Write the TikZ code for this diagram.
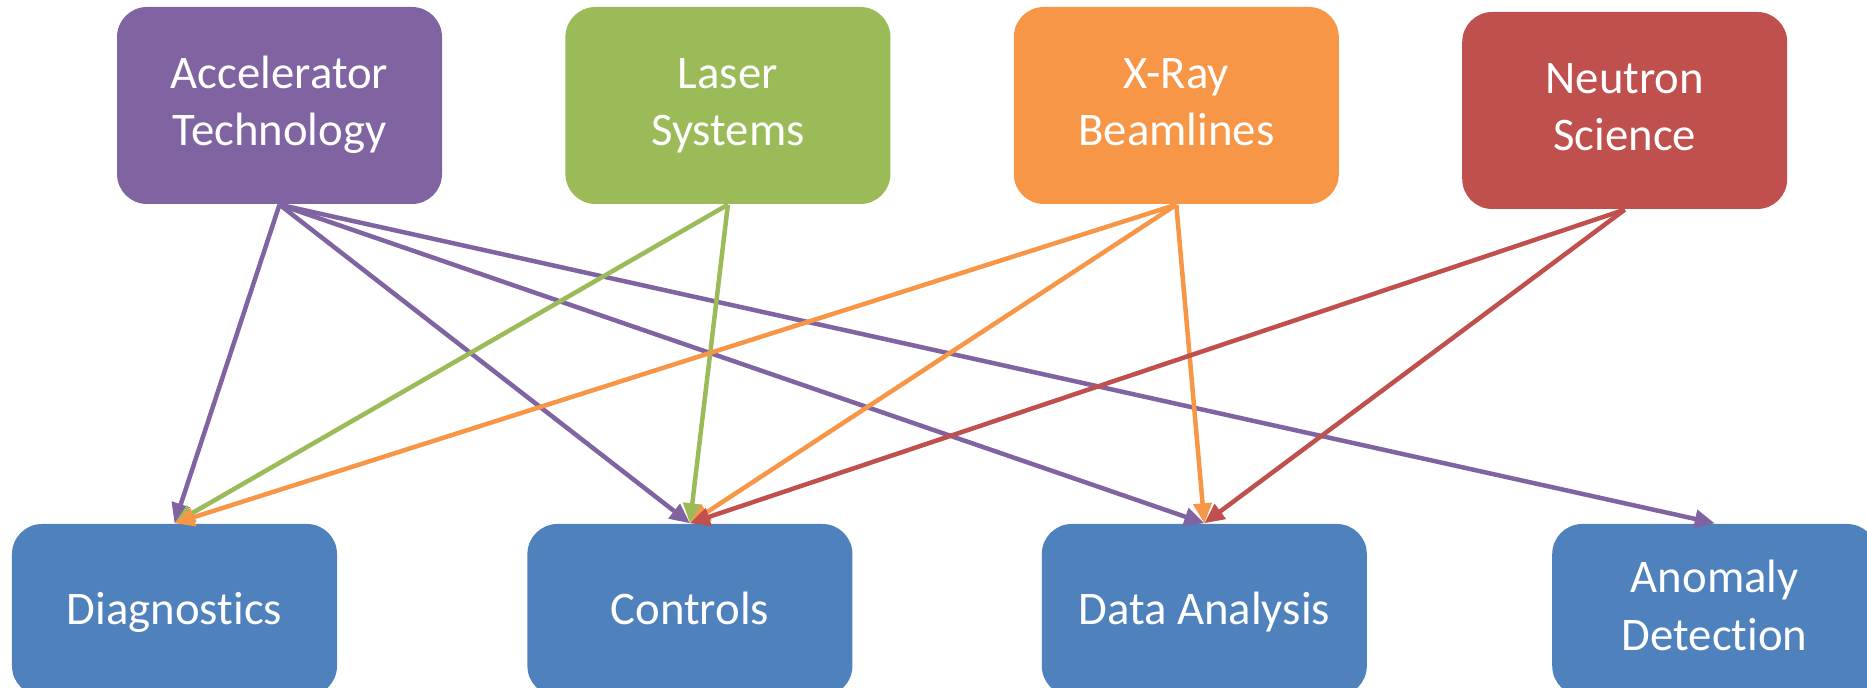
\documentclass[tikz,border=0pt]{standalone}
\usepackage{fontspec}
\setmainfont{Carlito}[Ligatures={NoCommon,NoContextual},
  RawFeature={-liga;-clig;-dlig;-calt}]
\usetikzlibrary{arrows.meta,positioning}
\definecolor{acc}{RGB}{128,100,162}
\definecolor{las}{RGB}{155,187,89}
\definecolor{xry}{RGB}{247,150,70}
\definecolor{neu}{RGB}{192,80,77}
\definecolor{app}{RGB}{79,129,189}
% line strut that sits the text a bit low in its box
\newcommand{\boxstrut}{\rule[-2.7pt]{0pt}{13.9pt}}
% two centred lines, set a touch low
\newcommand{\twoline}[2]{\raisebox{-0.11cm}{%
  \begin{tabular}{@{}c@{}}#1\\#2\end{tabular}}}

\begin{document}
\begin{tikzpicture}[
      node distance=1.22cm,
      area/.style={rounded corners=0.3cm,
        minimum width=3.25cm,minimum height=1.97cm,
        align=center,inner sep=0pt,text=white,
        font=\fontsize{13.3}{16.4}\selectfont},
      task/.style={area,fill=app,minimum height=1.72cm,
        execute at begin node=\boxstrut,
        execute at end node=\boxstrut},
      arr/.style={-{Triangle[length=0.2cm,width=0.18cm]},
        line width=0.045cm}
    ]
      \useasboundingbox (0,0) rectangle (18.67,-6.88);
      \clip (0,0) rectangle (18.67,-6.88);

      % research areas
      \node[area,fill=acc] (accel) at (2.795,-1.055)
        {\twoline{Accelerator}{Technology}};
      \node[area,fill=las,right=of accel] (laser)
        {\twoline{Laser}{Systems}};
      \node[area,fill=xry,right=of laser] (xray)
        {\twoline{X-Ray}{Beamlines}};
      \node[area,fill=neu,right=of xray,yshift=-0.05cm] (neutron)
        {\twoline{Neutron}{Science}};

      % ML tasks
      \node[task] (diag) at (1.745,-6.10) {Diagnostics};
      \node[task,right=1.89cm of diag] (ctrl) {Controls};
      \node[task,right=1.88cm of ctrl] (data) {Data Analysis};
      \node[task,right=1.84cm of data] (anom) {Anomaly\\Detection};

      \foreach \t in {diag,ctrl,data,anom}
        \draw[arr,acc] (accel.south) -- (\t.north);
      \foreach \t in {diag,ctrl}
        \draw[arr,las] (laser.south) -- (\t.north);
      \foreach \t in {diag,ctrl,data}
        \draw[arr,xry] (xray.south) -- (\t.north);
      \foreach \t in {ctrl,data}
        \draw[arr,neu] (neutron.south) -- (\t.north);
    \end{tikzpicture}
\end{document}
